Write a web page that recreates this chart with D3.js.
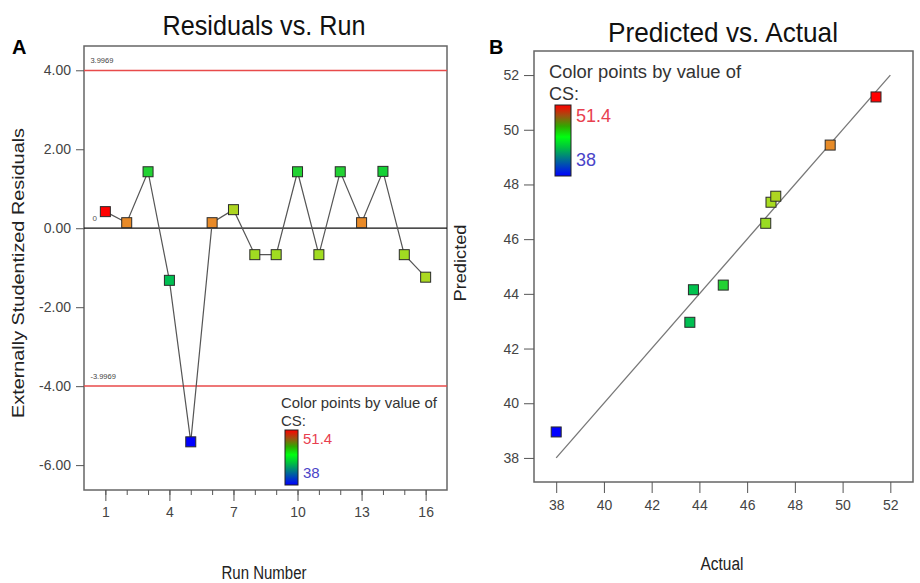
<!DOCTYPE html>
<html><head><meta charset="utf-8">
<script src="https://cdn.jsdelivr.net/npm/d3@7"></script>
<style>
html,body{margin:0;padding:0;background:#fff;}
svg{display:block;font-family:"Liberation Sans",Arial,sans-serif;}
</style></head>
<body>
<svg id="chart" width="920" height="583"></svg>
<script>
// ---------- data ----------
const runNumbers = [1,2,3,4,5,6,7,8,9,10,11,12,13,14,15,16];
const residuals  = [0.42,0.14,1.43,-1.32,-5.41,0.14,0.47,-0.67,-0.67,1.43,-0.67,1.43,0.14,1.44,-0.67,-1.24];
const runCS      = [51.4,49.5,45.0,43.6,38.0,49.5,47.2,46.9,46.9,45.0,46.9,45.0,49.5,44.8,46.9,47.1];
const limitValues = [3.9969,-3.9969];
const limitLabels = ["3.9969","-3.9969"];
const leftYTicks = [4,2,0,-2,-4,-6];
const leftXTicks = [1,4,7,10,13,16];
const leftXMinor = [1,2,3,4,5,6,7,8,9,10,11,12,13,14,15,16];

const actualVals    = [38.0,43.6,43.75,45.0,46.78,47.0,47.2,49.48,51.4];
const predictedVals = [38.95,42.96,44.15,44.32,46.58,47.35,47.57,49.44,51.2];
const rightTicks = [38,40,42,44,46,48,50,52];
const csLabels = ["51.4","38"];

// ---------- setup ----------
const svg = d3.select("#chart");
const csColor = d3.scaleLinear()
  .domain([38,42,44.5,47,49.5,51.4])
  .range(["#0000ff","#00a080","#00d038","#a8dc20","#e88a28","#ff0000"]);

const defs = svg.append("defs");
const grad = defs.append("linearGradient").attr("id","csgrad")
  .attr("x1",0).attr("y1",1).attr("x2",0).attr("y2",0);
[["0%","#0000ff"],["20%","#0060a0"],["40%","#00c040"],["55%","#00ff10"],["70%","#30a800"],["85%","#a05010"],["100%","#ff0000"]]
  .forEach(([o,c])=>grad.append("stop").attr("offset",o).attr("stop-color",c));

const axisCol = "#555";
function marker(g, x, y, c){
  g.append("rect").attr("x",x-5).attr("y",y-5).attr("width",10).attr("height",10)
    .attr("fill",c).attr("stroke","#2a2a2a").attr("stroke-width",1);
}
function legend(x, y, fs, w, barX, barY, barW, barH, lblOff){
  svg.append("text").attr("x",x).attr("y",y).attr("font-size",fs).attr("fill","#333")
    .attr("textLength",w).attr("lengthAdjust","spacingAndGlyphs").text("Color points by value of");
  svg.append("text").attr("x",x).attr("y",y+fs*1.2).attr("font-size",fs).attr("fill","#333").text("CS:");
  svg.append("rect").attr("x",barX).attr("y",barY).attr("width",barW).attr("height",barH)
    .attr("fill","url(#csgrad)").attr("stroke","#222").attr("stroke-width",1);
  svg.append("text").attr("x",barX+barW+5).attr("y",barY+lblOff[0]).attr("font-size",fs).attr("fill","#e8404f").text(csLabels[0]);
  svg.append("text").attr("x",barX+barW+5).attr("y",barY+lblOff[1]).attr("font-size",fs).attr("fill","#4a44c8").text(csLabels[1]);
}

// ---------- Panel A ----------
const A = {l:84, r:447, t:46, b:490};
const xA = d3.scaleLinear().domain([0,17]).range([A.l,A.r]);
const yA = d3.scaleLinear().domain([-6.63,4.615]).range([A.b,A.t]);
const gA = svg.append("g");

gA.append("rect").attr("x",A.l).attr("y",A.t).attr("width",A.r-A.l).attr("height",A.b-A.t)
  .attr("fill","none").attr("stroke","#666").attr("stroke-width",1.5);

const yAxA = gA.append("g").attr("transform",`translate(${A.l},0)`)
  .call(d3.axisLeft(yA).tickValues(leftYTicks).tickFormat(d=>d.toFixed(2)).tickSize(8).tickPadding(5));
yAxA.select(".domain").remove();
yAxA.selectAll("line").attr("stroke",axisCol);
yAxA.selectAll("text").attr("font-size",14).attr("fill","#444");
const xMinA = gA.append("g").attr("transform",`translate(0,${A.b})`)
  .call(d3.axisBottom(xA).tickValues(leftXMinor).tickFormat("").tickSize(5));
xMinA.select(".domain").remove();
xMinA.selectAll("line").attr("stroke",axisCol);
const xAxA = gA.append("g").attr("transform",`translate(0,${A.b})`)
  .call(d3.axisBottom(xA).tickValues(leftXTicks).tickSize(11).tickPadding(6));
xAxA.select(".domain").remove();
xAxA.selectAll("line").attr("stroke",axisCol);
xAxA.selectAll("text").attr("font-size",14).attr("fill","#444");

gA.append("line").attr("x1",A.l).attr("x2",A.r).attr("y1",yA(0)).attr("y2",yA(0))
  .attr("stroke","#111").attr("stroke-width",1.3);
gA.append("text").attr("x",xA(0.4)).attr("y",yA(0)-7).attr("font-size",8).attr("fill","#555").text("0");
limitValues.forEach((v,i)=>{
  gA.append("line").attr("x1",A.l).attr("x2",A.r).attr("y1",yA(v)).attr("y2",yA(v))
    .attr("stroke","#e84a4a").attr("stroke-width",1.5);
  gA.append("text").attr("x",xA(0.3)).attr("y",yA(v)-7).attr("font-size",7.5).attr("fill","#444").text(limitLabels[i]);
});
gA.append("path").datum(runNumbers.map((r,i)=>[r,residuals[i]]))
  .attr("d",d3.line().x(d=>xA(d[0])).y(d=>yA(d[1])))
  .attr("fill","none").attr("stroke","#555").attr("stroke-width",1.2);
runNumbers.forEach((r,i)=>marker(gA, xA(r), yA(residuals[i]), csColor(runCS[i])));

svg.append("text").attr("x",264).attr("y",35).attr("text-anchor","middle").attr("font-size",27)
  .attr("textLength",203).attr("lengthAdjust","spacingAndGlyphs").attr("fill","#111").text("Residuals vs. Run");
svg.append("text").attr("x",12).attr("y",54).attr("font-size",20).attr("font-weight","bold").attr("fill","#000").text("A");
svg.append("text").attr("transform","translate(24,273) rotate(-90)").attr("text-anchor","middle")
  .attr("font-size",17).attr("textLength",290).attr("lengthAdjust","spacingAndGlyphs")
  .attr("fill","#222").text("Externally Studentized Residuals");
svg.append("text").attr("x",264).attr("y",579).attr("text-anchor","middle").attr("font-size",18)
  .attr("textLength",85).attr("lengthAdjust","spacingAndGlyphs").attr("fill","#222").text("Run Number");
legend(281, 408, 15, 156, 285, 430, 13, 55, [14,48]);

// ---------- Panel B ----------
const B = {l:534, r:913, t:51, b:482};
const xB = d3.scaleLinear().domain([37.07,52.95]).range([B.l,B.r]);
const yB = d3.scaleLinear().domain([37.12,52.88]).range([B.b,B.t]);
const gB = svg.append("g");
gB.append("rect").attr("x",B.l).attr("y",B.t).attr("width",B.r-B.l).attr("height",B.b-B.t)
  .attr("fill","none").attr("stroke","#666").attr("stroke-width",1.5);
const yAxB = gB.append("g").attr("transform",`translate(${B.l},0)`)
  .call(d3.axisLeft(yB).tickValues(rightTicks).tickSize(10).tickPadding(5));
yAxB.select(".domain").remove();
yAxB.selectAll("line").attr("stroke",axisCol);
yAxB.selectAll("text").attr("font-size",14).attr("fill","#444");
const xAxB = gB.append("g").attr("transform",`translate(0,${B.b})`)
  .call(d3.axisBottom(xB).tickValues(rightTicks).tickSize(11).tickPadding(7));
xAxB.select(".domain").remove();
xAxB.selectAll("line").attr("stroke",axisCol);
xAxB.selectAll("text").attr("font-size",14).attr("fill","#444");

gB.append("line").attr("x1",xB(rightTicks[0])).attr("y1",yB(rightTicks[0]))
  .attr("x2",xB(rightTicks[rightTicks.length-1])).attr("y2",yB(rightTicks[rightTicks.length-1]))
  .attr("stroke","#777").attr("stroke-width",1.3);
actualVals.forEach((a,i)=>marker(gB, xB(a), yB(predictedVals[i]), csColor(a)));

svg.append("text").attr("x",723).attr("y",42).attr("text-anchor","middle").attr("font-size",28)
  .attr("textLength",230).attr("lengthAdjust","spacingAndGlyphs").attr("fill","#111").text("Predicted vs. Actual");
svg.append("text").attr("x",489).attr("y",54).attr("font-size",20).attr("font-weight","bold").attr("fill","#000").text("B");
svg.append("text").attr("transform","translate(466,263) rotate(-90)").attr("text-anchor","middle")
  .attr("font-size",16).attr("textLength",77).attr("lengthAdjust","spacingAndGlyphs")
  .attr("fill","#222").text("Predicted");
svg.append("text").attr("x",722).attr("y",570).attr("text-anchor","middle").attr("font-size",18)
  .attr("textLength",43).attr("lengthAdjust","spacingAndGlyphs").attr("fill","#222").text("Actual");
legend(549, 78, 18, 192, 555, 105, 16, 71, [17,61]);
</script>
</body></html>
